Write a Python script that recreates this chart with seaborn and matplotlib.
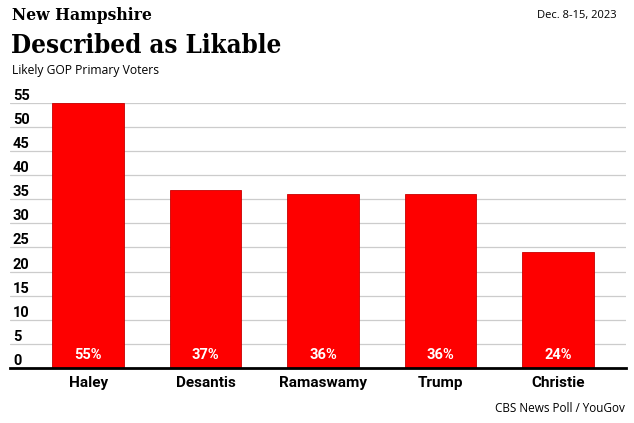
import pandas as pd
import matplotlib.pyplot as plt
import seaborn as sns

candidates = ['Haley', 'Desantis', 'Ramaswamy', 'Trump', 'Christie']
likable = [55, 37, 36, 36, 24]
y_ticks = list(range(0, 60, 5))

df = pd.DataFrame({'candidate': candidates, 'pct': likable})

sns.set_style('white', {'text.color': 'black', 'xtick.color': 'black',
                        'ytick.color': 'black'})
plt.rcParams['font.family'] = ['Roboto', 'DejaVu Sans']

fig = plt.figure(figsize=(6.34, 4.23), dpi=100)
ax = fig.add_axes([0.016, 0.130, 0.971, 0.627])

sns.barplot(data=df, x='candidate', y='pct', color='#fe0000', saturation=1,
            width=0.61, edgecolor='#c80000', linewidth=0.6, ax=ax, zorder=3)

ax.set_xlim(-0.663, 4.575)
ax.set_ylim(0, 55)
ax.set_yticks(y_ticks)
ax.yaxis.grid(True, color='#cccccc', linewidth=0.9, zorder=0)
ax.set_axisbelow(True)
for s in ['top', 'right', 'left']:
    ax.spines[s].set_visible(False)
ax.spines['bottom'].set_color('black')
ax.spines['bottom'].set_linewidth(2)
ax.spines['bottom'].set_zorder(5)

ax.tick_params(axis='y', length=0, pad=-2, labelsize=10.5, labelcolor='black')
for lab in ax.get_yticklabels():
    lab.set_ha('left')
    lab.set_va('bottom')
    lab.set_fontweight('bold')
ax.tick_params(axis='x', length=0, pad=6, labelsize=11, labelcolor='black')
for lab in ax.get_xticklabels():
    lab.set_fontweight('bold')
ax.set_xlabel('')
ax.set_ylabel('')

# percent labels inside the bars
for i, v in enumerate(likable):
    ax.text(i, 1.3, f'{v}%', ha='center', va='bottom', color='white',
            fontsize=10.5, fontweight='bold', zorder=6)

fig.text(0.019, 0.963, 'New Hampshire', fontsize=12.5, fontweight='bold',
         family='DejaVu Serif', fontstretch='condensed', va='center', color='black')
fig.text(0.017, 0.893, 'Described as Likable', fontsize=18.5, fontweight='bold',
         family='DejaVu Serif', fontstretch='condensed', va='center', color='black')
fig.text(0.019, 0.833, 'Likely GOP Primary Voters', fontsize=8.7,
         family=['Open Sans', 'DejaVu Sans'], va='center', color='black')
fig.text(0.973, 0.963, 'Dec. 8-15, 2023', fontsize=8, ha='right',
         family=['Open Sans', 'DejaVu Sans'], va='center', color='black')
fig.text(0.985, 0.035, 'CBS News Poll / YouGov', fontsize=8.5, ha='right',
         family=['Open Sans', 'DejaVu Sans'], va='center', color='black')

fig.savefig('out.png', dpi=100)
